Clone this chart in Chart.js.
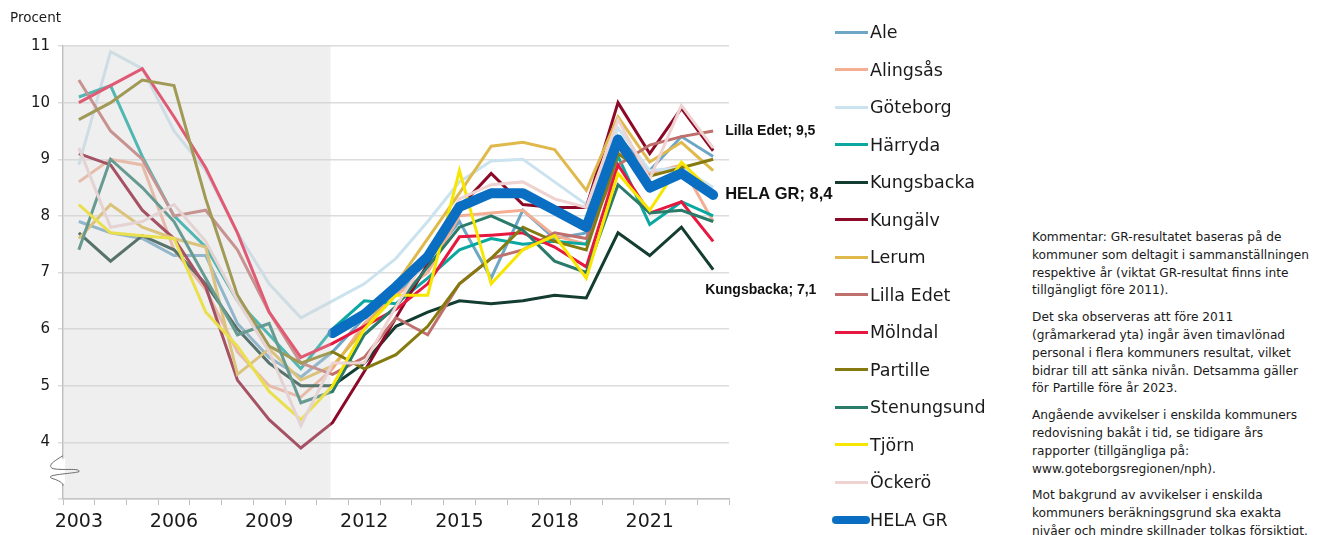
<!DOCTYPE html>
<html>
  <head>
    <meta charset="UTF-8" />
    <title>Procent per kommun</title>
    <script src="https://cdn.jsdelivr.net/npm/chart.js"></script>
    <style>
      body {
        margin: 0;
        width: 1321px;
        height: 535px;
        overflow: hidden;
        background: #fff;
        font-family: "DejaVu Sans", sans-serif;
        color: #1a1a1a;
      }
      #wrap {
        position: absolute;
        left: 0;
        top: 0;
        width: 1000px;
        height: 535px;
      }
      .unit {
        position: absolute;
        left: 10px;
        top: 11px;
        font-size: 13.5px;
        line-height: 1;
      }
      #legend .item {
        position: absolute;
        left: 832px;
        height: 22px;
        line-height: 22px;
        font-size: 17.5px;
        white-space: nowrap;
      }
      #legend .swatch {
        position: absolute;
        left: 3px;
        top: 9.5px;
        width: 33px;
        height: 3px;
      }
      #legend .txt {
        position: absolute;
        left: 38px;
        top: 0;
      }
      .comment {
        position: absolute;
        left: 1032px;
        top: 229px;
        font-size: 12.2px;
        line-height: 17.8px;
        white-space: nowrap;
      }
      .comment p {
        margin: 0 0 9px 0;
      }
    </style>
  </head>
  <body>
    <div id="wrap"><canvas id="lineChart" width="1000" height="535"></canvas></div>
    <div class="unit">Procent</div>
    <div id="legend"></div>
    <div class="comment">
      <p>Kommentar: GR-resultatet baseras på de<br />kommuner som deltagit i sammanställningen<br />respektive år (viktat GR-resultat finns inte<br />tillgängligt före 2011).</p>
      <p>Det ska observeras att före 2011<br />(gråmarkerad yta) ingår även timavlönad<br />personal i flera kommuners resultat, vilket<br />bidrar till att sänka nivån. Detsamma gäller<br />för Partille före år 2023.</p>
      <p>Angående avvikelser i enskilda kommuners<br />redovisning bakåt i tid, se tidigare års<br />rapporter (tillgängliga på:<br />www.goteborgsregionen/nph).</p>
      <p>Mot bakgrund av avvikelser i enskilda<br />kommuners beräkningsgrund ska exakta<br />nivåer och mindre skillnader tolkas försiktigt.</p>
    </div>

    <script>
      const years = ["2003", "2004", "2005", "2006", "2007", "2008", "2009", "2010", "2011", "2012", "2013",
        "2014", "2015", "2016", "2017", "2018", "2019", "2020", "2021", "2022", "2023"];
      const yTicks = [3, 4, 5, 6, 7, 8, 9, 10, 11];

      const ale = [7.9, 7.7, 7.6, 7.3, 7.3, 6.1, 5.5, 5.15, 5.6, 6.2, 6.6, 7.2, 7.9, 6.9, 8.1, 7.6, 7.7, 9.4, 8.8, 9.4, 9.05];
      const alingsas = [8.6, 9.0, 8.9, 7.4, 6.7, 5.6, 5.0, 4.8, 5.3, 6.1, 6.6, 7.0, 8.0, 8.05, 8.1, 7.65, 7.5, 9.15, 8.75, 8.9, 7.9];
      const goteborg = [8.9, 10.9, 10.6, 9.5, 8.8, 7.7, 6.8, 6.2, 6.5, 6.8, 7.25, 7.9, 8.6, 8.97, 9.0, 8.6, 8.2, 9.55, 8.8, 8.85, 8.5];
      const harryda = [10.1, 10.3, 9.05, 8.0, 7.45, 6.5, 5.9, 5.3, 6.0, 6.5, 6.45, 6.9, 7.4, 7.6, 7.5, 7.55, 7.5, 9.05, 7.85, 8.25, 8.0];
      const kungsbacka = [7.7, 7.2, 7.65, 7.4, 6.8, 6.0, 5.4, 5.0, 5.0, 5.4, 6.05, 6.3, 6.5, 6.45, 6.5, 6.6, 6.55, 7.7, 7.3, 7.8, 7.05];
      const kungalv = [9.1, 8.9, 8.1, 7.6, 6.75, 5.1, 4.4, 3.9, 4.35, 5.25, 6.2, 7.15, 8.15, 8.75, 8.2, 8.15, 8.15, 10.0, 9.1, 9.9, 9.15];
      const lerum = [7.6, 8.2, 7.8, 7.6, 7.45, 5.2, 5.65, 5.1, 5.35, 6.0, 6.8, 7.6, 8.4, 9.23, 9.3, 9.17, 8.45, 9.75, 8.95, 9.3, 8.8];
      const lillaEdet = [10.4, 9.5, 9.0, 8.0, 8.1, 7.4, 6.3, 5.4, 5.2, 5.5, 6.2, 5.9, 6.8, 7.25, 7.4, 7.7, 7.6, 8.9, 9.25, 9.4, 9.5];
      const molndal = [10.0, 10.3, 10.6, 9.75, 8.85, 7.7, 6.3, 5.5, 5.75, 6.05, 6.35, 6.8, 7.63, 7.66, 7.7, 7.45, 7.1, 8.9, 8.05, 8.25, 7.55];
      const partille = [9.7, 10.0, 10.4, 10.3, 8.3, 6.6, 5.7, 5.4, 5.6, 5.3, 5.55, 6.05, 6.8, 7.25, 7.8, 7.55, 7.4, 9.1, 8.7, 8.85, 9.0];
      const stenungsund = [7.4, 9.0, 8.5, 7.9, 6.9, 5.9, 6.1, 4.7, 4.9, 5.9, 6.4, 7.1, 7.8, 8.0, 7.75, 7.2, 7.0, 8.55, 8.05, 8.1, 7.9];
      const tjorn = [8.2, 7.7, 7.65, 7.6, 6.3, 5.7, 4.9, 4.4, 5.0, 6.0, 6.6, 6.6, 8.8, 6.8, 7.4, 7.65, 6.9, 8.75, 8.1, 8.95, 8.4];
      const ockero = [9.2, 7.8, 7.9, 8.2, 7.55, 6.5, 5.6, 4.3, 5.4, 5.4, 6.4, 7.3, 8.3, 8.55, 8.6, 8.3, 8.15, 9.7, 8.65, 9.95, 9.2];
      const helaGR = [null, null, null, null, null, null, null, null, 5.93, 6.26, 6.75, 7.28, 8.16, 8.4, 8.4, 8.1, 7.8, 9.35, 8.5, 8.75, 8.37];

      const names = ["Ale", "Alingsås", "Göteborg", "Härryda", "Kungsbacka", "Kungälv", "Lerum",
        "Lilla Edet", "Mölndal", "Partille", "Stenungsund", "Tjörn", "Öckerö", "HELA GR"];
      const series = [ale, alingsas, goteborg, harryda, kungsbacka, kungalv, lerum,
        lillaEdet, molndal, partille, stenungsund, tjorn, ockero, helaGR];
      const colors = ["#6ea6c6", "#f3ae93", "#cbe3ee", "#0aa8a0", "#133d31", "#8c0a27", "#e0b94d",
        "#c0706c", "#e8173f", "#857a10", "#2b7b6b", "#f7e600", "#efd2d2", "#0a6fc2"];

      // end labels: [series index, text, dx, dy, font]
      const endLabels = [
        [7, "Lilla Edet; 9,5", 12, 0, "bold 14px 'Liberation Sans'"],
        [13, "HELA GR; 8,4", 12, 0, "bold 16.5px 'Liberation Sans'"],
        [4, "Kungsbacka; 7,1", -8, 20, "bold 14px 'Liberation Sans'"],
      ];

      Chart.defaults.font.family = "'DejaVu Sans', sans-serif";
      Chart.defaults.color = "#1a1a1a";

      const datasets = series.map((data, i) => {
        const total = i === series.length - 1;
        return {
          label: names[i],
          data: data,
          borderColor: colors[i],
          backgroundColor: colors[i],
          borderWidth: total ? 10 : 3,
          borderCapStyle: total ? "round" : "butt",
          borderJoinStyle: total ? "round" : "miter",
          pointRadius: 0,
          tension: 0,
          order: series.length - i, // later series on top, like the original
        };
      });

      // grey area before 2011, drawn over the lines so they look faded
      const greyArea = {
        id: "greyArea",
        afterDatasetsDraw(chart) {
          const { ctx, chartArea, scales } = chart;
          const xEnd = scales.x.getPixelForValue(years.indexOf("2011")) - 2;
          ctx.save();
          ctx.fillStyle = "rgba(210,210,210,0.36)";
          ctx.fillRect(chartArea.left, chartArea.top, xEnd - chartArea.left, chartArea.bottom - chartArea.top);
          ctx.restore();
        },
      };

      const labelsAndBreak = {
        id: "labelsAndBreak",
        afterDraw(chart) {
          const { ctx, scales } = chart;
          const x = scales.x, y = scales.y;
          ctx.save();
          endLabels.forEach(([idx, text, dx, dy, font]) => {
            const last = series[idx].length - 1;
            ctx.font = font;
            ctx.fillStyle = "#111";
            ctx.textBaseline = "middle";
            ctx.fillText(text, x.getPixelForValue(last) + dx, y.getPixelForValue(series[idx][last]) + dy);
          });
          // axis break mark
          const ax = x.left;
          const by = y.getPixelForValue(3.5);
          ctx.fillStyle = "#fff";
          ctx.fillRect(ax - 2, by - 12, 4, 25);
          ctx.strokeStyle = "#6b6b6b";
          ctx.lineWidth = 1;
          ctx.beginPath();
          ctx.moveTo(ax, by - 15);
          ctx.bezierCurveTo(ax - 10, by - 9, ax - 16, by - 5, ax - 10, by - 2);
          ctx.bezierCurveTo(ax, by, ax + 18, by - 3, ax + 16, by + 1);
          ctx.bezierCurveTo(ax + 10, by + 3, ax - 22, by + 4, ax - 10, by + 8);
          ctx.bezierCurveTo(ax - 4, by + 10, ax, by + 12, ax, by + 15);
          ctx.stroke();
          ctx.restore();
        },
      };

      const lineConfig = {
        type: "line",
        data: { labels: years, datasets: datasets },
        options: {
          responsive: false,
          animation: false,
          layout: { padding: { top: 46, right: 271, left: 0, bottom: 0 } },
          plugins: {
            legend: { display: false },
            tooltip: { enabled: false },
          },
          scales: {
            x: {
              type: "category",
              offset: true,
              afterFit: (s) => { s.height = 36; },
              grid: { offset: true, drawOnChartArea: false, tickLength: 6, color: "#bfbfbf" },
              border: { color: "#bfbfbf", width: 1.5 },
              ticks: {
                autoSkip: false,
                maxRotation: 0,
                padding: 6,
                font: { size: 19 },
                callback: (v, i) => (i % 3 === 0 ? years[i] : ""),
              },
            },
            y: {
              min: yTicks[0],
              max: yTicks[yTicks.length - 1],
              afterFit: (s) => { s.width = 63; },
              afterBuildTicks: (s) => { s.ticks = yTicks.map((v) => ({ value: v })); },
              grid: { color: "#dcdcdc", lineWidth: 1.5, tickLength: 5 },
              border: { color: "#bfbfbf", width: 1.5 },
              ticks: {
                padding: 8,
                font: { size: 15 },
                callback: (v) => (v === 3 ? "" : v),
              },
            },
          },
        },
        plugins: [greyArea, labelsAndBreak],
      };

      const chart = new Chart(document.getElementById("lineChart"), lineConfig);

      // legend built from the chart's datasets
      const legend = document.getElementById("legend");
      chart.data.datasets.forEach((ds, i) => {
        const item = document.createElement("div");
        item.className = "item";
        item.style.top = (21 + i * 37.54) + "px";
        const sw = document.createElement("div");
        sw.className = "swatch";
        sw.style.background = ds.borderColor;
        if (i === chart.data.datasets.length - 1) {
          sw.style.left = "0px";
          sw.style.width = "38px";
          sw.style.height = "8px";
          sw.style.top = "7px";
          sw.style.borderRadius = "4px";
        }
        const txt = document.createElement("span");
        txt.className = "txt";
        txt.textContent = ds.label;
        item.appendChild(sw);
        item.appendChild(txt);
        legend.appendChild(item);
      });
    </script>
  </body>
</html>
